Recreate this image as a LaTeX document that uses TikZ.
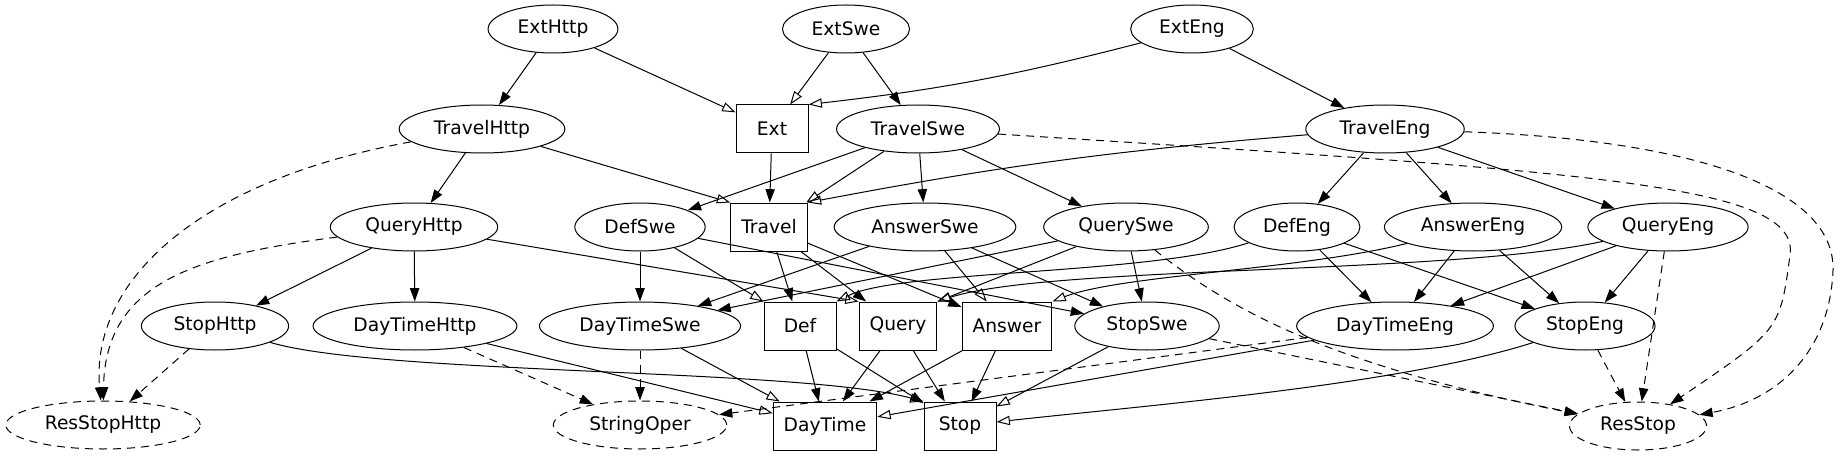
\documentclass[tikz,border=0pt]{standalone}
\usepackage{fontspec}
\setmainfont{DejaVu Sans}
\usepackage{tikz}
\usetikzlibrary{shapes.geometric,arrows.meta,calc}
\tikzset{CONCRETE/.style={ellipse,draw,line width=0.75pt,inner xsep=7.92pt,inner ysep=3.96pt,minimum height=36pt,minimum width=54pt,font=\fontsize{14}{17}\selectfont}}
\tikzset{ABSTRACT/.style={rectangle,draw,line width=0.75pt,inner xsep=7.92pt,inner ysep=3.96pt,minimum height=36pt,minimum width=54pt,font=\fontsize{14}{17}\selectfont}}
\tikzset{RESOURCE/.style={CONCRETE,dash pattern=on 6pt off 4.5pt}}
\tikzset{ARROW/.style={line width=0.75pt,-{Triangle[length=10pt,width=7pt]}}}
\tikzset{EXTEND/.style={line width=0.75pt,-{Triangle[open,length=10pt,width=7pt]}}}
\tikzset{OPENS/.style={ARROW,dash pattern=on 6pt off 4.5pt}}

\begin{document}
\begin{tikzpicture}[x=0.75pt,y=-0.75pt]

\useasboundingbox[fill=white] (0,0) rectangle (1841,456);

\node[CONCRETE] (n_exthttp) at (553,29) {ExtHttp};
\node[CONCRETE] (n_extswe) at (846,29) {ExtSwe};
\node[CONCRETE] (n_exteng) at (1192,29) {ExtEng};

\node[CONCRETE] (n_travelhttp) at (482,129) {TravelHttp};
\node[ABSTRACT] (n_ext) at (772,129) {Ext};
\node[CONCRETE] (n_travelswe) at (918,129) {TravelSwe};
\node[CONCRETE] (n_traveleng) at (1385,129) {TravelEng};

\node[CONCRETE] (n_queryhttp) at (414,227) {QueryHttp};
\node[CONCRETE] (n_defswe) at (640,227) {DefSwe};
\node[ABSTRACT] (n_travel) at (769,227) {Travel};
\node[CONCRETE] (n_answerswe) at (925,227) {AnswerSwe};
\node[CONCRETE] (n_queryswe) at (1126,227) {QuerySwe};
\node[CONCRETE] (n_defeng) at (1297,227) {DefEng};
\node[CONCRETE] (n_answereng) at (1473,227) {AnswerEng};
\node[CONCRETE] (n_queryeng) at (1668,227) {QueryEng};

\node[CONCRETE] (n_stophttp) at (215,326) {StopHttp};
\node[CONCRETE] (n_daytimehttp) at (415,326) {DayTimeHttp};
\node[CONCRETE] (n_daytimeswe) at (640,326) {DayTimeSwe};
\node[ABSTRACT] (n_def) at (800,326) {Def};
\node[ABSTRACT] (n_query) at (898,326) {Query};
\node[ABSTRACT] (n_answer) at (1007,326) {Answer};
\node[CONCRETE] (n_stopswe) at (1147,326) {StopSwe};
\node[CONCRETE] (n_daytimeeng) at (1395,326) {DayTimeEng};
\node[CONCRETE] (n_stopeng) at (1585,326) {StopEng};

\node[RESOURCE] (n_resstophttp) at (103,425) {ResStopHttp};
\node[RESOURCE] (n_stringoper) at (640,425) {StringOper};
\node[ABSTRACT] (n_daytime) at (825,426) {DayTime};
\node[ABSTRACT] (n_stop) at (960,426) {Stop};
\node[RESOURCE] (n_resstop) at (1638,426) {ResStop};

\draw[ARROW] (n_exthttp) -- (n_travelhttp);
\draw[EXTEND] (n_exthttp) -- (n_ext);
\draw[EXTEND] (n_extswe) -- (n_ext);
\draw[ARROW] (n_extswe) -- (n_travelswe);
\draw[EXTEND] (n_exteng) to[bend left=4] (n_ext.north east);
\draw[ARROW] (n_exteng) -- (n_traveleng);

\draw[ARROW] (n_travelhttp) -- (n_queryhttp);
\draw[EXTEND] (n_travelhttp) -- (n_travel.north west);
\draw[OPENS] (n_travelhttp) .. controls (200,180) and (90,280) .. (n_resstophttp);
\draw[ARROW] (n_ext) -- (n_travel);
\draw[ARROW] (n_travelswe) -- (n_defswe);
\draw[EXTEND] (n_travelswe) -- (n_travel);
\draw[ARROW] (n_travelswe) -- (n_answerswe);
\draw[ARROW] (n_travelswe) -- (n_queryswe);
\draw[OPENS] (n_travelswe) .. controls (1600,172) and (1800,185) .. (1790,255) .. controls (1780,330) .. (n_resstop);
\draw[EXTEND] (n_traveleng) to[bend right=3] (n_travel.north east);
\draw[ARROW] (n_traveleng) -- (n_defeng);
\draw[ARROW] (n_traveleng) -- (n_answereng);
\draw[ARROW] (n_traveleng) -- (n_queryeng);
\draw[OPENS] (n_traveleng) .. controls (1700,140) and (1835,190) .. (1833,270) .. controls (1830,350) and (1780,400) .. (n_resstop);

\draw[ARROW] (n_queryhttp) -- (n_stophttp);
\draw[ARROW] (n_queryhttp) -- (n_daytimehttp);
\draw[EXTEND] (n_queryhttp) -- (n_query.north west);
\draw[OPENS] (n_queryhttp) .. controls (200,255) and (105,280) .. (n_resstophttp);
\draw[ARROW] (n_defswe) -- (n_daytimeswe);
\draw[EXTEND] (n_defswe) -- (n_def.north west);
\draw[ARROW] (n_defswe) -- (n_stopswe);
\draw[ARROW] (n_travel) -- (n_def);
\draw[ARROW] (n_travel) -- (n_query);
\draw[ARROW] (n_travel) -- (n_answer);
\draw[ARROW] (n_answerswe) -- (n_daytimeswe);
\draw[EXTEND] (n_answerswe) -- (n_answer);
\draw[ARROW] (n_answerswe) -- (n_stopswe);
\draw[ARROW] (n_queryswe) -- (n_daytimeswe);
\draw[EXTEND] (n_queryswe) -- (n_query.north east);
\draw[ARROW] (n_queryswe) -- (n_stopswe);
\draw[OPENS] (n_queryswe) .. controls (1230,310) and (1330,365) .. (n_resstop);
\draw[EXTEND] (n_defeng) .. controls (1150,275) and (900,270) .. (n_def.north east);
\draw[ARROW] (n_defeng) -- (n_daytimeeng);
\draw[ARROW] (n_defeng) -- (n_stopeng);
\draw[EXTEND] (n_answereng) .. controls (1300,270) and (1120,275) .. (n_answer.north east);
\draw[ARROW] (n_answereng) -- (n_daytimeeng);
\draw[ARROW] (n_answereng) -- (n_stopeng);
\draw[EXTEND] (n_queryeng) .. controls (1450,275) and (1050,265) .. (n_query.north east);
\draw[ARROW] (n_queryeng) -- (n_daytimeeng);
\draw[ARROW] (n_queryeng) -- (n_stopeng);
\draw[OPENS] (n_queryeng) -- (n_resstop);

\draw[OPENS] (n_stophttp) -- (n_resstophttp);
\draw[EXTEND] (n_stophttp) .. controls (380,375) and (800,368) .. (n_stop.north west);
\draw[EXTEND] (n_daytimehttp) -- (n_daytime);
\draw[OPENS] (n_daytimehttp) -- (n_stringoper);
\draw[OPENS] (n_daytimeswe) -- (n_stringoper);
\draw[EXTEND] (n_daytimeswe) -- (n_daytime);
\draw[ARROW] (n_def) -- (n_daytime);
\draw[ARROW] (n_def) -- (n_stop);
\draw[ARROW] (n_query) -- (n_daytime);
\draw[ARROW] (n_query) -- (n_stop);
\draw[ARROW] (n_answer) -- (n_daytime);
\draw[ARROW] (n_answer) -- (n_stop);
\draw[EXTEND] (n_stopswe) -- (n_stop);
\draw[OPENS] (n_stopswe) -- (n_resstop);
\draw[EXTEND] (n_daytimeeng) -- (n_daytime);
\draw[OPENS] (n_daytimeeng) -- (n_stringoper);
\draw[EXTEND] (n_stopeng) .. controls (1400,385) and (1150,405) .. (n_stop);
\draw[OPENS] (n_stopeng) -- (n_resstop);

\end{tikzpicture}
\end{document}
